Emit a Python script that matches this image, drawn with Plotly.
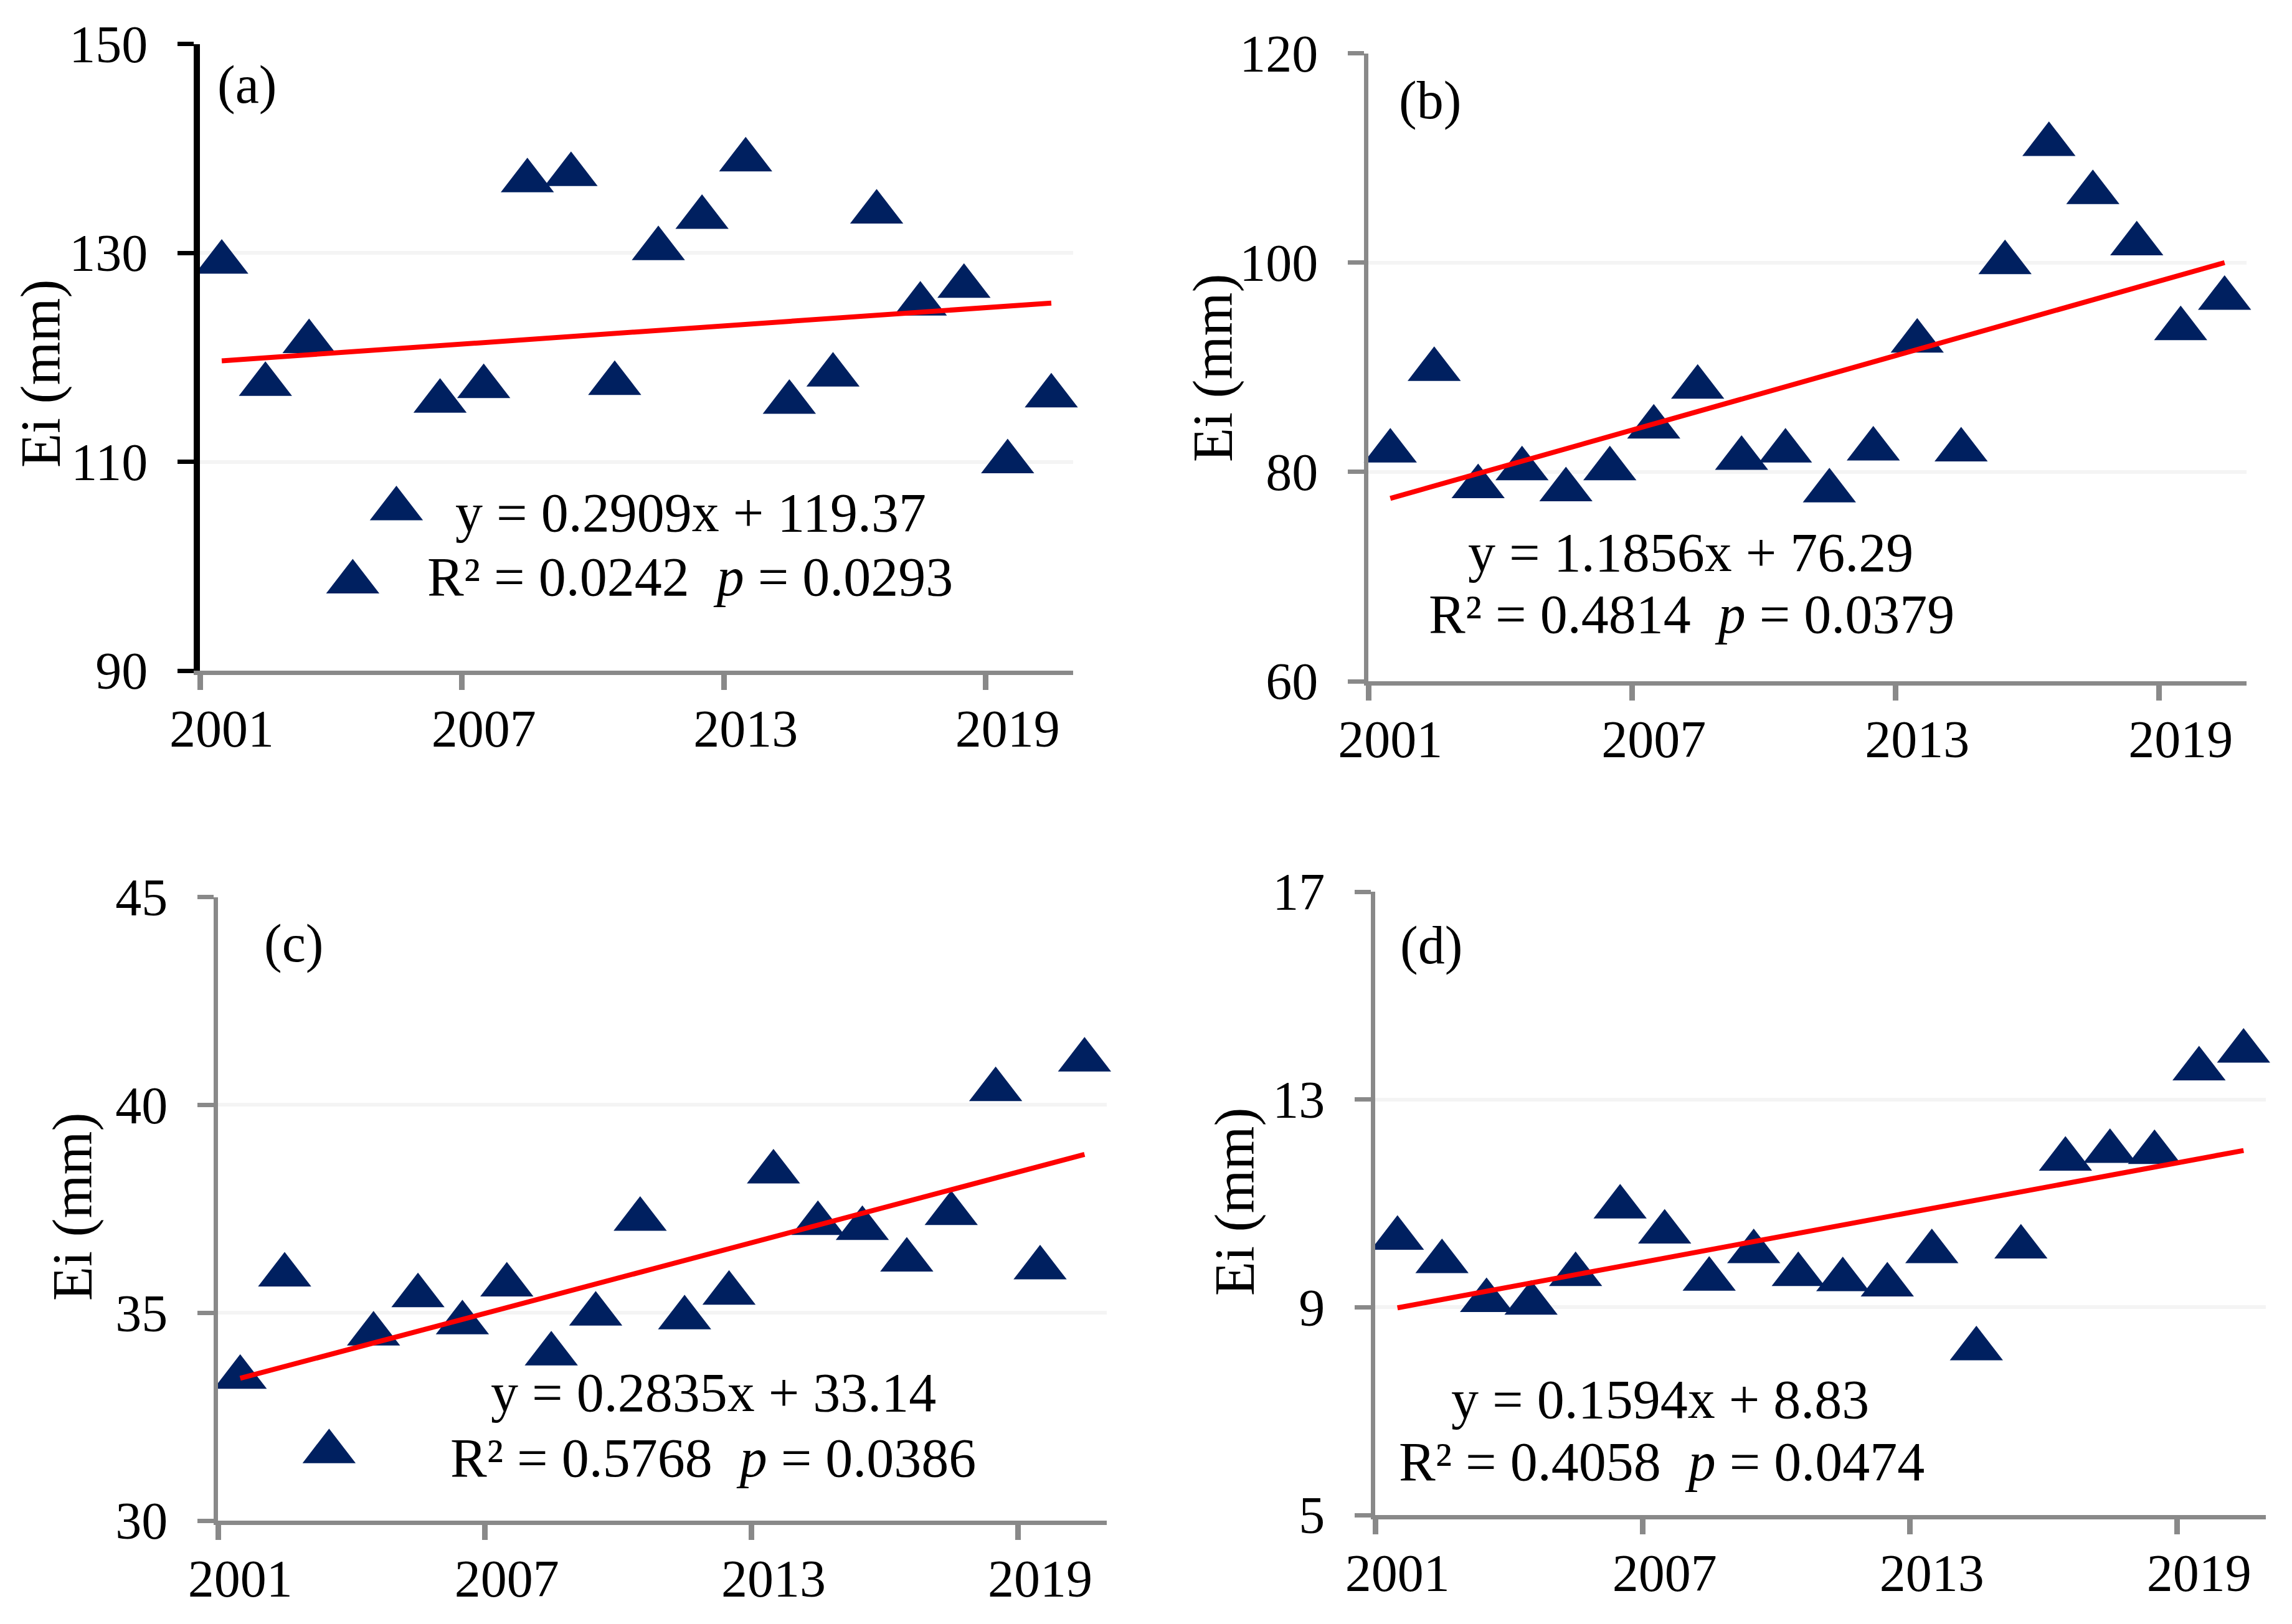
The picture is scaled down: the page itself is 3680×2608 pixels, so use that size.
import plotly.graph_objects as go

# ---------------- data ----------------
years = [2001, 2002, 2003, 2004, 2005, 2006, 2007, 2008, 2009, 2010,
         2011, 2012, 2013, 2014, 2015, 2016, 2017, 2018, 2019, 2020]
year_index = [1, 2, 3, 4, 5, 6, 7, 8, 9, 10, 11, 12, 13, 14, 15, 16, 17, 18, 19, 20]
tick_years = [2001, 2007, 2013, 2019]
tick_labels = ["2001", "2007", "2013", "2019"]

ei_a = [129.1, 117.4, 121.5, 98.5, 105.5, 115.8, 117.2, 136.9, 137.5, 117.5,
        130.4, 133.4, 138.9, 115.7, 118.3, 133.9, 125.1, 126.8, 110.0, 116.3]
ei_b = [82.0, 89.8, 78.6, 80.3, 78.3, 80.3, 84.3, 88.1, 81.3, 82.0,
        78.2, 82.2, 92.5, 82.1, 100.0, 111.3, 106.7, 101.8, 93.7, 96.6]
ei_c = [33.45, 35.91, 31.66, 34.49, 35.41, 34.76, 35.67, 34.01, 34.97, 37.25,
        34.88, 35.47, 38.39, 37.15, 37.03, 36.27, 37.39, 40.37, 36.08, 41.08]
ei_d = [10.33, 9.88, 9.13, 9.08, 9.63, 10.93, 10.45, 9.54, 10.07, 9.63,
        9.53, 9.43, 10.07, 8.20, 10.16, 11.85, 12.00, 11.98, 13.59, 13.93]

slopes = [0.2909, 1.1856, 0.2835, 0.1594]
intercepts = [119.37, 76.29, 33.14, 8.83]
r2_text = ["0.0242", "0.4814", "0.5768", "0.4058"]
p_text = ["0.0293", "0.0379", "0.0386", "0.0474"]
panel_labels = ["(a)", "(b)", "(c)", "(d)"]

y_ranges = [[90, 150], [60, 120], [30, 45], [5, 17]]
y_dticks = [20, 20, 5, 4]

# ---------------- layout geometry (pixels) ----------------
W, H = 3680, 2608
# left, right, top, bottom of each plot area
boxes = [(321, 1723, 70.5, 1077), (2197, 3607, 85.7, 1094),
         (350, 1777, 1440.6, 2442), (2208, 3638, 1432, 2433)]
label_pos = [(396, 136), (2296, 161), (471, 1515), (2298, 1518)]
ytitle_pos = [(66, 600), (1948, 591), (117, 1938), (1983, 1930)]
eq1_pos = [(1109, 823), (2714, 887), (1145, 2236), (2665, 2247)]
eq2_pos = [(1108, 926), (2716, 987), (1145, 2341), (2668, 2347)]

FONT = "Liberation Serif"
NAVY = "#002060"
GRAY = "#898989"

def px(x):
    return x / W

def py(y):
    return 1 - y / H

fig = go.Figure()
series = [ei_a, ei_b, ei_c, ei_d]
annotations = []
x_range = [years[0] - 0.5, years[-1] + 0.5]
boundary_ticks = [v - 0.5 for v in tick_years]

for k in range(4):
    sfx = "" if k == 0 else str(k + 1)
    lsfx = str(k + 5)
    xa, ya = "x" + sfx, "y" + sfx
    trend = [slopes[k] * i + intercepts[k] for i in year_index]
    fig.add_trace(go.Scatter(
        x=years, y=series[k], mode="markers", xaxis=xa, yaxis=ya,
        marker=dict(symbol="triangle-up", size=74, color=NAVY, line=dict(width=0)),
        cliponaxis=False, showlegend=False))
    fig.add_trace(go.Scatter(
        x=years, y=trend, mode="lines", xaxis=xa, yaxis=ya,
        line=dict(color="#FF0000", width=8), cliponaxis=False, showlegend=False))

    l, r, t, b = boxes[k]
    ycol = "#000000" if k == 0 else GRAY
    ylw = 10 if k == 0 else 7
    # tick marks at category boundaries
    fig.layout["xaxis" + sfx] = dict(
        domain=[px(l), px(r)], anchor=ya, range=x_range,
        tickmode="array", tickvals=boundary_ticks, showticklabels=False,
        ticks="outside", ticklen=24, tickwidth=9, tickcolor=GRAY,
        showline=True, linecolor=GRAY, linewidth=7, showgrid=False, zeroline=False,
        automargin=False, fixedrange=True)
    # labels at category centres
    fig.layout["xaxis" + lsfx] = dict(
        overlaying=xa, anchor=ya, side="bottom", range=x_range,
        tickmode="array", tickvals=tick_years, ticktext=tick_labels, tickangle=0,
        ticks="", showline=False, showgrid=False, zeroline=False,
        ticklabelstandoff=37,
        tickfont=dict(family=FONT, size=84, color="black"),
        automargin=False, fixedrange=True)
    fig.layout["yaxis" + sfx] = dict(
        domain=[py(b), py(t)], anchor=xa, range=y_ranges[k],
        tickmode="linear", tick0=y_ranges[k][0], dtick=y_dticks[k],
        ticks="outside", ticklen=26, tickwidth=7, tickcolor=ycol,
        showline=True, linecolor=ycol, linewidth=ylw,
        showgrid=True, gridcolor="#f4f4f4", gridwidth=6, zeroline=False,
        ticklabelstandoff=31,
        tickfont=dict(family=FONT, size=84, color="black"),
        automargin=False, fixedrange=True)
    # invisible trace so the label axis is drawn
    fig.add_trace(go.Scatter(x=[years[0]], y=[y_ranges[k][0]], xaxis="x" + lsfx, yaxis=ya,
                             mode="markers", marker=dict(opacity=0), hoverinfo="skip",
                             showlegend=False))

    annotations.append(dict(text=panel_labels[k], x=px(label_pos[k][0]), y=py(label_pos[k][1]),
                            xref="paper", yref="paper", xanchor="center", yanchor="middle",
                            showarrow=False, font=dict(family=FONT, size=86, color="black")))
    annotations.append(dict(text="Ei (mm)", x=px(ytitle_pos[k][0]), y=py(ytitle_pos[k][1]),
                            xref="paper", yref="paper", xanchor="center", yanchor="middle",
                            textangle=-90, showarrow=False,
                            font=dict(family=FONT, size=90, color="black")))
    eq = "y = %.4fx + %.2f" % (slopes[k], intercepts[k])
    annotations.append(dict(text=eq, x=px(eq1_pos[k][0]), y=py(eq1_pos[k][1]),
                            xref="paper", yref="paper", xanchor="center", yanchor="middle",
                            showarrow=False, font=dict(family=FONT, size=88, color="black")))
    annotations.append(dict(text="R² = %s&nbsp;&nbsp;<i>p</i> = %s" % (r2_text[k], p_text[k]),
                            x=px(eq2_pos[k][0]), y=py(eq2_pos[k][1]),
                            xref="paper", yref="paper", xanchor="center", yanchor="middle",
                            showarrow=False, font=dict(family=FONT, size=88, color="black")))

fig.update_layout(width=W, height=H,
                  margin=dict(l=0, r=0, t=0, b=0, pad=0, autoexpand=False),
                  paper_bgcolor="white", plot_bgcolor="white",
                  annotations=annotations, showlegend=False)

fig.write_html("out.html", config={"displayModeBar": False},
               post_script="document.body.style.margin='0px';")
